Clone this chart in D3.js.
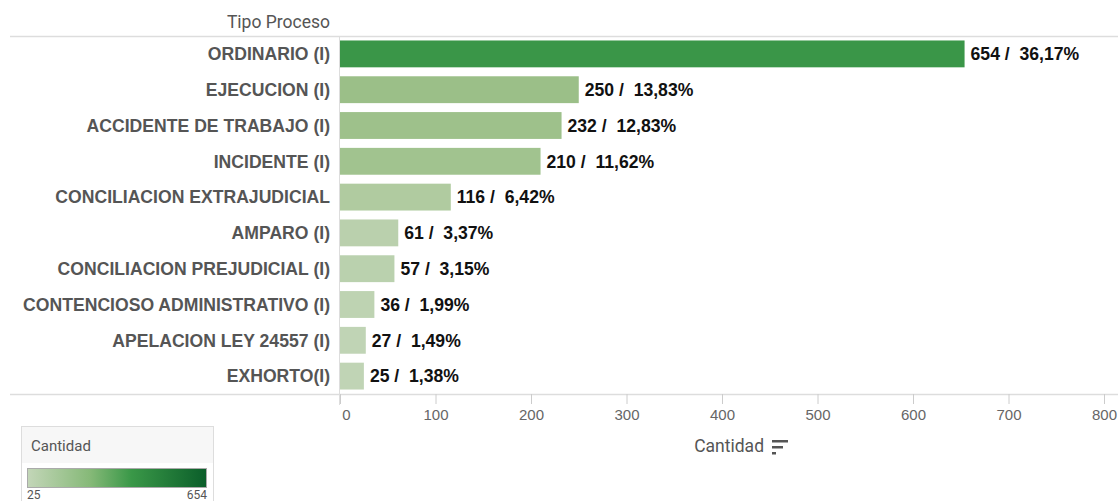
<!DOCTYPE html>
<html>
<head>
<meta charset="utf-8">
<script src="https://cdn.jsdelivr.net/npm/d3@7"></script>
<style>
  body { margin: 0; background: #fff; }
  svg { display: block; font-family: Roboto, "Liberation Sans", Arial, sans-serif; }
  .cat-label { font-family: "Liberation Sans", Arial, sans-serif; font-size: 17.6px; font-weight: bold; fill: #555; }
  .val-label { font-family: "Liberation Sans", Arial, sans-serif; font-size: 17.6px; font-weight: bold; fill: #111; }
  .x-axis text { font-size: 15px; fill: #666; }
  .x-axis .domain { display: none; }
  .x-axis .tick line { stroke: #ccc; }
</style>
</head>
<body>
<div id="chart"></div>
<script>
const categories = ['ORDINARIO (I)', 'EJECUCION (I)', 'ACCIDENTE DE TRABAJO (I)', 'INCIDENTE (I)',
  'CONCILIACION EXTRAJUDICIAL', 'AMPARO (I)', 'CONCILIACION PREJUDICIAL (I)',
  'CONTENCIOSO ADMINISTRATIVO (I)', 'APELACION LEY 24557 (I)', 'EXHORTO(I)'];
const counts = [654, 250, 232, 210, 116, 61, 57, 36, 27, 25];
const percents = ['36,17%', '13,83%', '12,83%', '11,62%', '6,42%', '3,37%', '3,15%', '1,99%', '1,49%', '1,38%'];
const xTicks = [0, 100, 200, 300, 400, 500, 600, 700, 800];

(function() {
  const width = 1118, height = 501;
  const svg = d3.select('#chart').append('svg')
    .attr('width', width)
    .attr('height', height);

  const left = 340, top = 36, bottom = 394;
  const x = d3.scaleLinear().domain([0, 800]).range([left, 1104]);
  const y = d3.scaleBand().domain(categories).range([top, bottom]).paddingInner(0.25).paddingOuter(0.125);

  // bar colours (observed from the picture, light for small values, green for the max)
  const color = d3.scaleLinear()
    .domain([25, 116, 250, 654])
    .range(['#c0d4b5', '#b0cba0', '#9bbf88', '#3a9648']);

  // header
  svg.append('text')
    .attr('x', 330).attr('y', 28)
    .attr('text-anchor', 'end')
    .attr('font-size', 17.5)
    .attr('fill', '#555')
    .text('Tipo Proceso');

  // frame lines
  svg.append('line').attr('x1', 10).attr('x2', width).attr('y1', top + 0.5).attr('y2', top + 0.5)
    .attr('stroke', '#ddd').attr('stroke-width', 1.5);
  svg.append('line').attr('x1', 10).attr('x2', width).attr('y1', bottom + 0.5).attr('y2', bottom + 0.5)
    .attr('stroke', '#ddd').attr('stroke-width', 1.5);
  svg.append('line').attr('x1', left - 0.5).attr('x2', left - 0.5).attr('y1', top).attr('y2', bottom + 11)
    .attr('stroke', '#ddd').attr('stroke-width', 1);

  // bars
  svg.append('g').selectAll('rect')
    .data(categories)
    .enter().append('rect')
    .attr('x', x(0))
    .attr('y', d => y(d))
    .attr('width', (d, i) => x(counts[i]) - x(0))
    .attr('height', y.bandwidth())
    .attr('fill', (d, i) => color(counts[i]));

  // category labels
  svg.append('g').selectAll('text')
    .data(categories)
    .enter().append('text')
    .attr('class', 'cat-label')
    .attr('x', 330)
    .attr('y', d => y(d) + y.bandwidth() / 2)
    .attr('dy', '0.36em')
    .attr('text-anchor', 'end')
    .text(d => d);

  // value labels
  svg.append('g').selectAll('text')
    .data(categories)
    .enter().append('text')
    .attr('class', 'val-label')
    .attr('x', (d, i) => x(counts[i]) + 6)
    .attr('y', d => y(d) + y.bandwidth() / 2)
    .attr('dy', '0.36em')
    .attr('xml:space', 'preserve')
    .text((d, i) => `${counts[i]} /  ${percents[i]}`);

  // x axis
  svg.append('g')
    .attr('class', 'x-axis')
    .attr('transform', `translate(0,${bottom})`)
    .call(d3.axisBottom(x).tickValues(xTicks).tickSize(10).tickPadding(5).tickFormat(d3.format('d')));
  svg.select('.x-axis .tick text').attr('dx', 6);

  svg.append('text')
    .attr('x', 764).attr('y', 452)
    .attr('text-anchor', 'end')
    .attr('font-size', 17.5)
    .attr('fill', '#555')
    .text('Cantidad');
  // sort icon
  const icon = svg.append('g').attr('fill', '#555');
  icon.append('rect').attr('x', 772).attr('y', 440).attr('width', 16).attr('height', 2.5);
  icon.append('rect').attr('x', 772).attr('y', 446).attr('width', 11).attr('height', 2.5);
  icon.append('rect').attr('x', 772).attr('y', 452).attr('width', 4).attr('height', 2.5);

  // legend
  const lg = svg.append('g');
  lg.append('rect').attr('x', 21.5).attr('y', 426.5).attr('width', 192).attr('height', 90)
    .attr('fill', '#fff').attr('stroke', '#ddd');
  lg.append('rect').attr('x', 22).attr('y', 427).attr('width', 191).attr('height', 36)
    .attr('fill', '#f7f7f7');
  lg.append('text').attr('x', 31).attr('y', 451).attr('font-size', 15).attr('fill', '#555').text('Cantidad');

  const grad = svg.append('defs').append('linearGradient').attr('id', 'lgGrad');
  grad.append('stop').attr('offset', '0%').attr('stop-color', '#c3d6b8');
  grad.append('stop').attr('offset', '35%').attr('stop-color', '#86b978');
  grad.append('stop').attr('offset', '58%').attr('stop-color', '#3a9848');
  grad.append('stop').attr('offset', '100%').attr('stop-color', '#0b5e2a');
  lg.append('rect').attr('x', 27.5).attr('y', 468.5).attr('width', 179).attr('height', 19)
    .attr('fill', 'url(#lgGrad)').attr('stroke', '#aaa');
  lg.append('text').attr('x', 27).attr('y', 499).attr('font-size', 12).attr('fill', '#555').text(d3.min(counts));
  lg.append('text').attr('x', 207).attr('y', 499).attr('text-anchor', 'end').attr('font-size', 12).attr('fill', '#555').text(d3.max(counts));
})();
</script>
</body>
</html>
